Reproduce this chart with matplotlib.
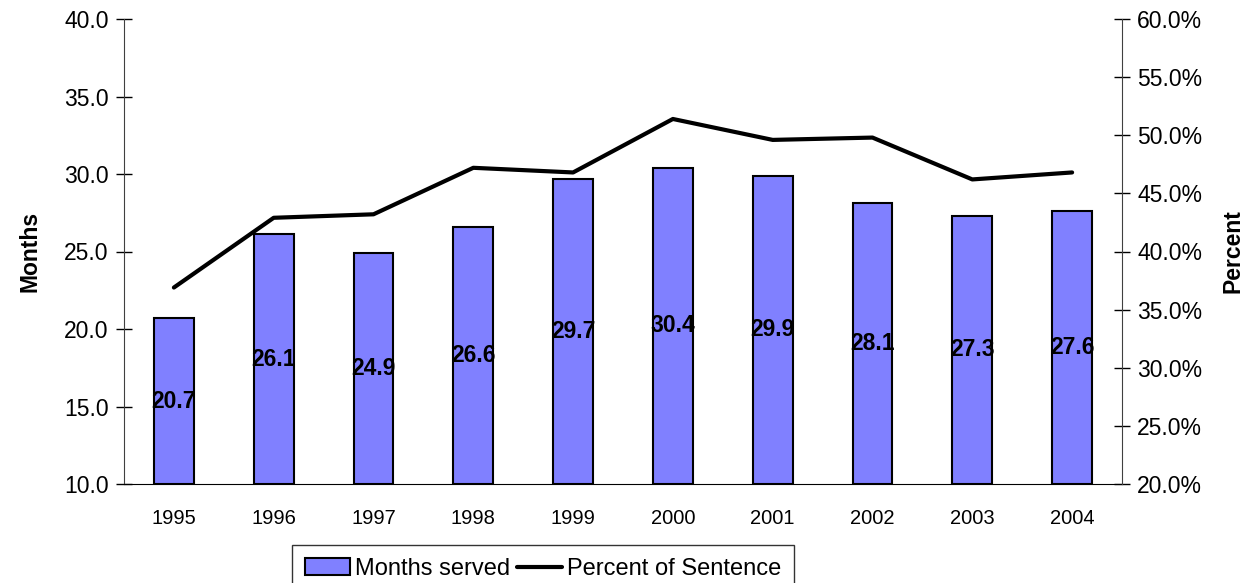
import matplotlib
matplotlib.use("Agg")
import matplotlib.pyplot as plt
from matplotlib.ticker import FuncFormatter, MultipleLocator

plt.rcParams['font.family'] = ['Liberation Sans', 'DejaVu Sans']

years = ['1995', '1996', '1997', '1998', '1999', '2000', '2001', '2002', '2003', '2004']
months_served = [20.7, 26.1, 24.9, 26.6, 29.7, 30.4, 29.9, 28.1, 27.3, 27.6]
percent_of_sentence = [36.9, 42.9, 43.2, 47.2, 46.8, 51.4, 49.6, 49.8, 46.2, 46.8]

fig = plt.figure(figsize=(12.46, 5.83), dpi=100)
ax = fig.add_axes([124/1246, 99/583, 998/1246, 465/583])
x = list(range(len(years)))
base = 10.0
bars = ax.bar(x, [v - base for v in months_served], bottom=base, width=0.4,
              color='#8080FF', edgecolor='black', linewidth=1.5, label='Months served', zorder=2)
for xi, v in zip(x, months_served):
    ax.text(xi, (v + base) / 2, f'{v:.1f}', ha='center', va='center',
            fontsize=16.5, fontweight='bold', color='black', zorder=4)
ax.set_xlim(-0.5, len(years) - 0.5)
ax.set_ylim(10, 40)
ax.yaxis.set_major_locator(MultipleLocator(5))
ax.yaxis.set_major_formatter(FuncFormatter(lambda v, p: f'{v:.1f}'))
ax.set_xticks(x)
ax.set_xticklabels(years)
ax.tick_params(axis='x', length=0, labelsize=14.5, pad=18)
ax.tick_params(axis='y', direction='inout', length=12, width=1, labelsize=16.5, pad=5, colors='black')
ax.set_ylabel('Months', fontsize=16.5, fontweight='bold', labelpad=16)
for s in ['top', 'right']:
    ax.spines[s].set_visible(False)
ax.spines['left'].set_color('#404040')
ax.spines['bottom'].set_color('black')

ax2 = ax.twinx()
line, = ax2.plot(x, percent_of_sentence, color='black', linewidth=3,
                 solid_capstyle='round', label='Percent of Sentence', zorder=3)
ax2.set_ylim(20, 60)
ax2.yaxis.set_major_locator(MultipleLocator(5))
ax2.yaxis.set_major_formatter(FuncFormatter(lambda v, p: f'{v:.1f}%'))
ax2.tick_params(axis='y', direction='inout', length=12, width=1, labelsize=16.5, pad=5)
ax2.set_ylabel('Percent', fontsize=16.5, fontweight='bold', labelpad=14)
ax2.spines['top'].set_visible(False)
ax2.spines['left'].set_visible(False)
ax2.spines['bottom'].set_visible(False)
ax2.spines['right'].set_color('#404040')

leg = fig.legend([bars, line], ['Months served', 'Percent of Sentence'],
                 loc='upper center', bbox_to_anchor=(543/1246, 38/583), ncol=2,
                 fontsize=17, frameon=True, fancybox=False, edgecolor='black',
                 handlelength=1.9, handletextpad=0.2, columnspacing=0.3,
                 borderpad=0.55, borderaxespad=0)
leg.get_frame().set_linewidth(1)

fig.savefig('out.png', dpi=100)
